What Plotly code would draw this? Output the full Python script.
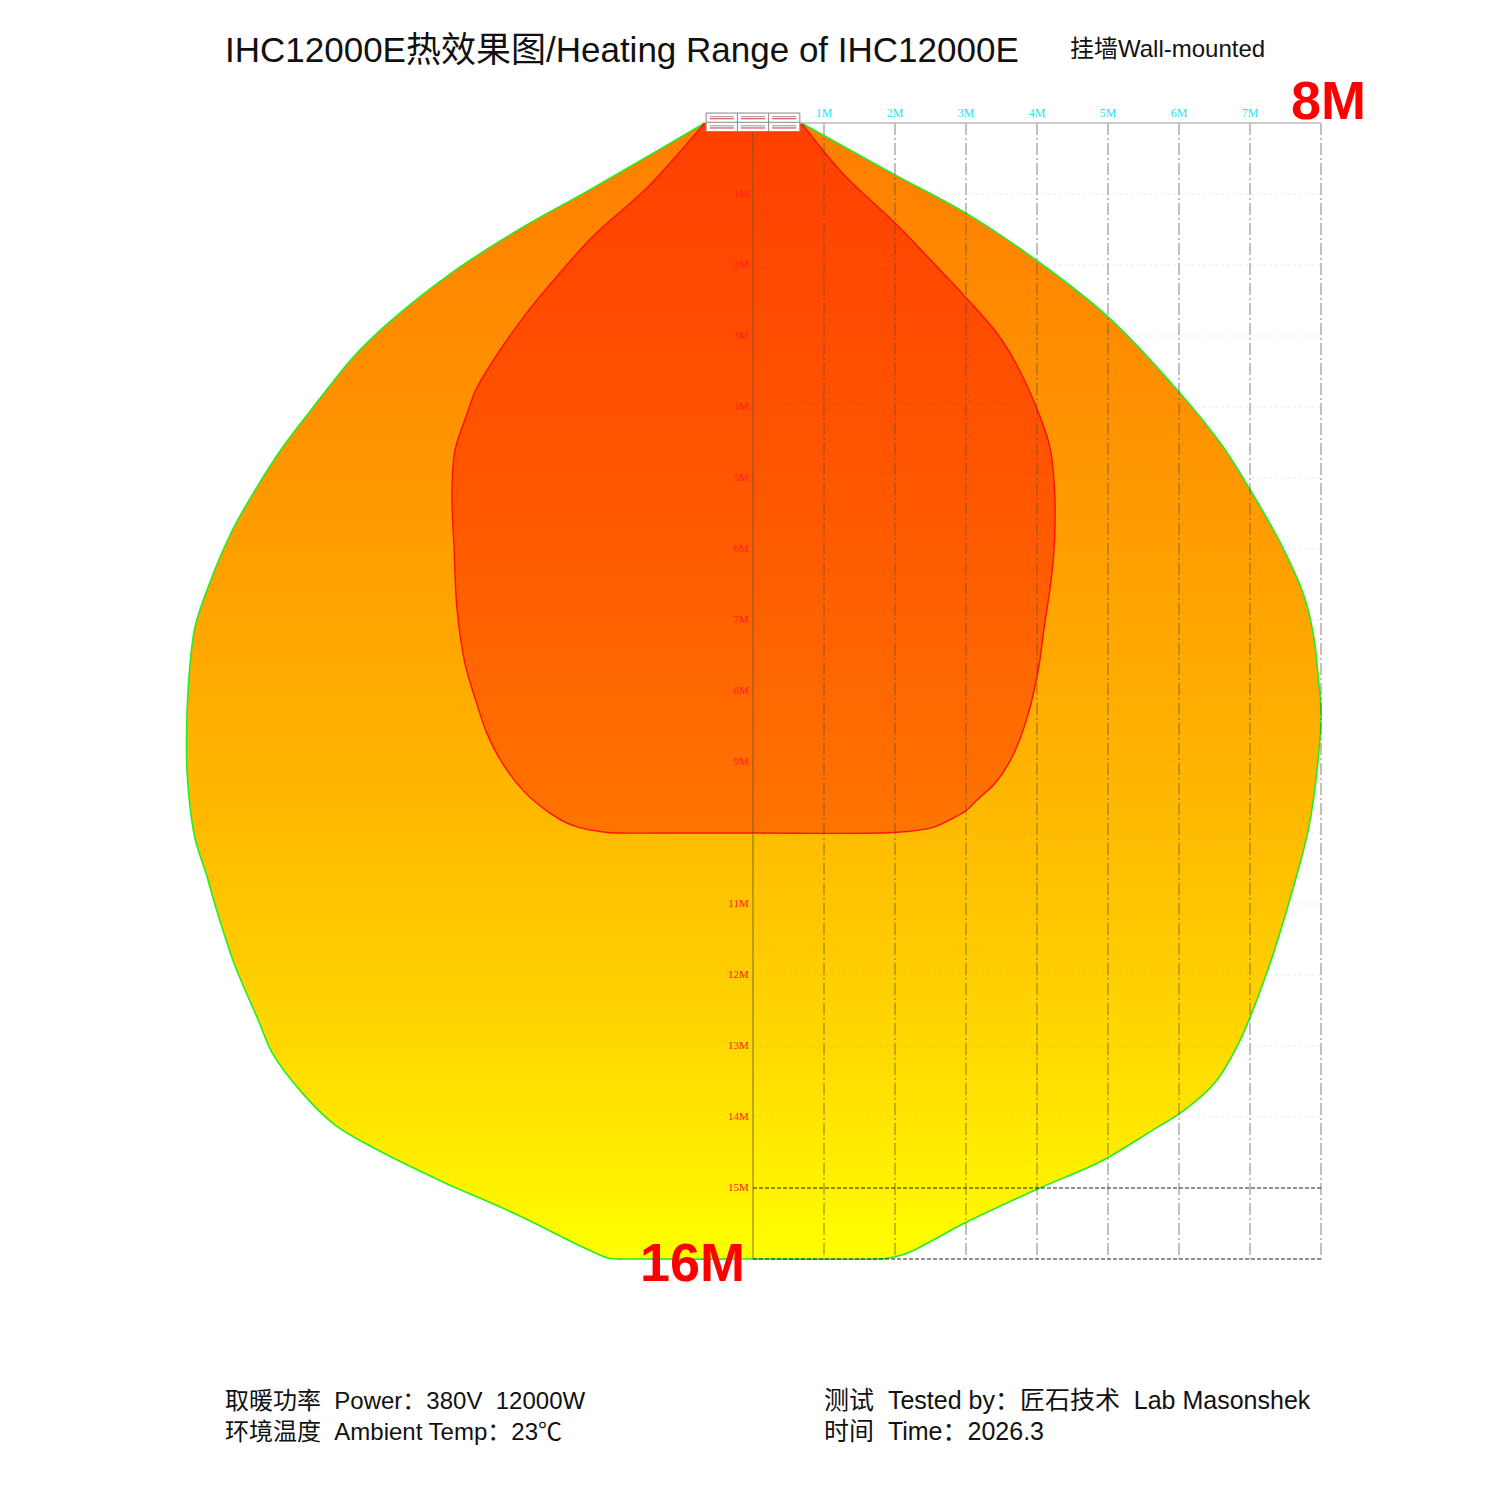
import plotly.graph_objects as go

# ---------------- data (metres) ----------------
outer_x = [-0.68, -1.38, -2.35, -3.23, -4.20, -5.15, -5.65, -6.13, -6.62, -7.00, -7.34, -7.68, -7.86, -7.93,
           -7.97, -7.97, -7.86, -7.70, -7.55, -7.30, -6.97, -6.77, -6.35, -5.89, -5.37, -4.42, -3.38, -2.34,
           -2.03, -1.72, 0.0, 1.75, 1.89, 2.17, 3.01, 4.04, 4.89, 5.59, 6.08, 6.51, 6.86, 7.25, 7.56, 7.82,
           7.96, 8.00, 7.97, 7.90, 7.76, 7.42, 7.01, 6.62, 6.01, 5.00, 4.00, 3.00, 2.00, 0.68]
outer_y = [0.0, 0.41, 0.97, 1.46, 2.08, 2.83, 3.32, 3.92, 4.56, 5.15, 5.75, 6.55, 7.10, 7.63,
           8.27, 9.15, 10.07, 10.58, 11.10, 11.86, 12.63, 13.10, 13.66, 14.11, 14.42, 14.89, 15.35, 15.86,
           15.99, 16.0, 16.0, 16.0, 15.99, 15.92, 15.48, 15.0, 14.63, 14.21, 13.90, 13.51, 12.92, 11.93, 10.94, 9.96,
           8.97, 8.27, 7.90, 7.25, 6.66, 5.90, 5.18, 4.56, 3.80, 2.73, 1.94, 1.27, 0.73, 0.0]

inner_x = [-0.68, -1.48, -2.25, -2.83, -3.23, -3.61, -3.90, -4.04, -4.20, -4.24, -4.21, -4.17, -4.06, -3.90,
           -3.75, -3.54, -3.23, -2.86, -2.55, -2.08, -1.30, 0.0, 2.03, 2.54, 2.82, 3.01, 3.15, 3.41, 3.65,
           3.85, 4.01, 4.11, 4.18, 4.24, 4.25, 4.18, 4.00, 3.70, 3.42, 3.00, 2.70, 2.00, 1.28, 0.68]
inner_y = [0.0, 0.90, 1.59, 2.24, 2.73, 3.27, 3.75, 4.13, 4.62, 5.21, 6.01, 6.83, 7.60, 8.15,
           8.59, 9.00, 9.41, 9.72, 9.89, 9.99, 10.0, 10.0, 9.99, 9.92, 9.79, 9.68, 9.54, 9.30, 8.93,
           8.41, 7.75, 7.04, 6.58, 6.01, 5.21, 4.56, 4.03, 3.38, 2.94, 2.46, 2.14, 1.41, 0.73, 0.0]

col_ticks = [1, 2, 3, 4, 5, 6, 7]
col_labels = ["1M", "2M", "3M", "4M", "5M", "6M", "7M"]
row_ticks = [1, 2, 3, 4, 5, 6, 7, 8, 9, 11, 12, 13, 14, 15]
row_labels = ["1M", "2M", "3M", "4M", "5M", "6M", "7M", "8M", "9M", "11M", "12M", "13M", "14M", "15M"]
grid_cols = [1, 2, 3, 4, 5, 6, 7, 8]
grid_rows = [1, 2, 3, 4, 5, 6, 7, 8, 9, 10, 11, 12, 13, 14]
dashed_rows = [15, 16]
half_width = 8
depth = 16

title = "IHC12000E热效果图/Heating Range of IHC12000E"
subtitle = "挂墙Wall-mounted"
footer_left = ["取暖功率  Power：380V  12000W", "环境温度  Ambient Temp：23℃"]
footer_right = ["测试  Tested by：匠石技术  Lab Masonshek", "时间  Time：2026.3"]

# ---------------- layout constants ----------------
W = H = 1500
PPM = 71.0             # pixels per metre
OX, OY = 753.0, 123.0  # pixel position of origin
FONT = "Liberation Sans, Arial, Noto Sans CJK SC, sans-serif"
SERIF = "Liberation Serif, DejaVu Serif, serif"

fig = go.Figure()

# outer zone
fig.add_trace(go.Scatter(
    x=outer_x, y=outer_y, mode="lines", fill="toself",
    line=dict(color="#22EE22", width=1.6, shape="spline", smoothing=0.9),
    fillgradient=dict(type="vertical", start=0, stop=16,
                      colorscale=[[0, "#FF7E00"], [0.25, "#FF9100"], [0.5, "#FFAC00"],
                                  [0.63, "#FFBC00"], [0.8, "#FFD600"], [1, "#FFFF00"]]),
    hoverinfo="skip", showlegend=False))

# inner zone
fig.add_trace(go.Scatter(
    x=inner_x, y=inner_y, mode="lines", fill="toself",
    line=dict(color="#FF1010", width=1.4, shape="spline", smoothing=0.9),
    fillgradient=dict(type="vertical", start=0, stop=10,
                      colorscale=[[0, "#FF4000"], [0.5, "#FF5600"], [1, "#FF7400"]]),
    hoverinfo="skip", showlegend=False))

# vertical dash-dot grid
for c in grid_cols:
    fig.add_trace(go.Scatter(x=[c, c], y=[0, depth], mode="lines",
                             line=dict(color="rgba(90,80,60,0.55)", width=1.3, dash="12px,3px,2px,3px"),
                             hoverinfo="skip", showlegend=False))
# faint horizontal grid
for r in grid_rows:
    fig.add_trace(go.Scatter(x=[0, half_width], y=[r, r], mode="lines",
                             line=dict(color="rgba(150,150,150,0.2)", width=1, dash="dot"),
                             hoverinfo="skip", showlegend=False))
# dashed bottom rows
for r in dashed_rows:
    fig.add_trace(go.Scatter(x=[0, half_width], y=[r, r], mode="lines",
                             line=dict(color="#222222", width=1.2, dash="4px,2px"),
                             hoverinfo="skip", showlegend=False))
# top line and centre axis
fig.add_trace(go.Scatter(x=[0, half_width], y=[0, 0], mode="lines",
                         line=dict(color="#BBBBBB", width=1.6),
                         hoverinfo="skip", showlegend=False))
fig.add_trace(go.Scatter(x=[0, 0], y=[0, depth], mode="lines",
                         line=dict(color="rgba(100,90,50,0.6)", width=1.4),
                         hoverinfo="skip", showlegend=False))

# column labels (cyan)
fig.add_trace(go.Scatter(x=col_ticks, y=[-0.12] * len(col_ticks), mode="text", text=col_labels,
                         textfont=dict(family=SERIF, size=12, color="#22E6F0"),
                         hoverinfo="skip", showlegend=False))
# row labels (red)
fig.add_trace(go.Scatter(x=[-0.06] * len(row_ticks), y=row_ticks, mode="text", text=row_labels,
                         textposition="middle left",
                         textfont=dict(family=SERIF, size=11, color="#FF2020"),
                         hoverinfo="skip", showlegend=False))

# heater box
bx0, bx1, by0, by1 = -0.66, 0.66, -0.14, 0.12
cols3 = [bx0 + (bx1 - bx0) * k / 3 for k in range(4)]
fig.add_shape(type="rect", x0=bx0, x1=bx1, y0=by0, y1=by1,
              line=dict(color="#888888", width=1), fillcolor="white")
for k in range(1, 3):
    fig.add_shape(type="line", x0=cols3[k], x1=cols3[k], y0=by0, y1=by1,
                  line=dict(color="#888888", width=1))
fig.add_shape(type="line", x0=bx0, x1=bx1, y0=(by0 + by1) / 2, y1=(by0 + by1) / 2,
              line=dict(color="#888888", width=1))
for k in range(3):
    a, b = cols3[k] + 0.05, cols3[k + 1] - 0.05
    for yy, col in [(-0.09, "#999999"), (-0.06, "#E03030"), (0.04, "#999999"), (0.07, "#E03030")]:
        fig.add_shape(type="line", x0=a, x1=b, y0=yy, y1=yy, line=dict(color=col, width=1))

# big labels
fig.add_annotation(x=8.11, y=-0.33, text="<b>8M</b>", showarrow=False,
                   font=dict(family=FONT, size=54, color="#FF0000"), xanchor="center", yanchor="middle")
fig.add_annotation(x=-0.85, y=16.04, text="<b>16M</b>", showarrow=False,
                   font=dict(family=FONT, size=54, color="#FF0000"), xanchor="center", yanchor="middle")

# titles & footer (paper coordinates)
def px(xp, yp):
    return xp / W, 1 - yp / H

tx, ty = px(223, 50)
fig.add_annotation(x=tx, y=ty, xref="paper", yref="paper", text=title, showarrow=False,
                   xanchor="left", yanchor="middle", font=dict(family=FONT, size=35, color="#111111"))
tx, ty = px(1068, 49)
fig.add_annotation(x=tx, y=ty, xref="paper", yref="paper", text=subtitle, showarrow=False,
                   xanchor="left", yanchor="middle", font=dict(family=FONT, size=24, color="#111111"))
for i, t in enumerate(footer_left):
    tx, ty = px(223, 1400 + 31 * i)
    fig.add_annotation(x=tx, y=ty, xref="paper", yref="paper", text=t, showarrow=False,
                       xanchor="left", yanchor="middle", font=dict(family=FONT, size=24, color="#111111"))
for i, t in enumerate(footer_right):
    tx, ty = px(822, 1400 + 31 * i)
    fig.add_annotation(x=tx, y=ty, xref="paper", yref="paper", text=t, showarrow=False,
                       xanchor="left", yanchor="middle", font=dict(family=FONT, size=25, color="#111111"))

fig.update_layout(
    width=W, height=H, autosize=False,
    margin=dict(l=0, r=0, t=0, b=0),
    paper_bgcolor="white", plot_bgcolor="white",
    xaxis=dict(visible=False, range=[-OX / PPM, (W - OX) / PPM], fixedrange=True),
    yaxis=dict(visible=False, range=[(H - OY) / PPM, -OY / PPM], fixedrange=True),
)

fig.write_html("out.html", config={"displayModeBar": False},
               post_script="document.body.style.margin='0';document.body.style.overflow='hidden';")
